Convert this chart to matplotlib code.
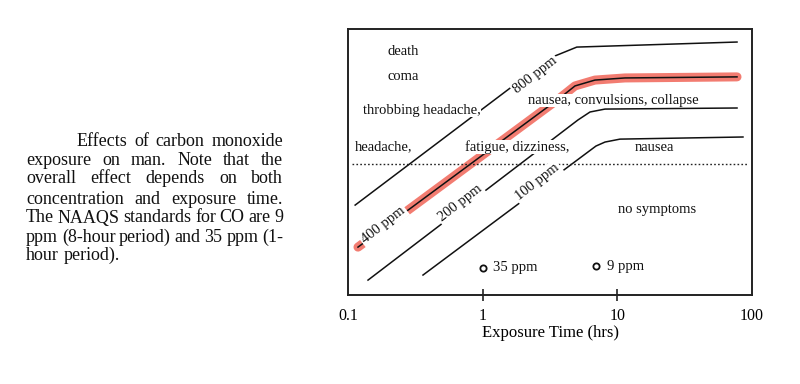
import matplotlib
matplotlib.use("Agg")
import matplotlib.pyplot as plt

SERIF = ["Liberation Serif", "DejaVu Serif"]
plt.rcParams["font.family"] = SERIF
plt.rcParams["text.color"] = "#111111"

# ---- data: exposure time (hrs) vs. relative effect level (arbitrary 0-100 scale)
t_800 = [0.113, 3.16, 5.0, 77.4]
y_800 = [33.8, 89.1, 93.2, 95.1]

t_400 = [0.1186, 3.75, 4.85, 6.82, 11.4, 77.4]
y_400 = [18.0, 74.1, 78.6, 80.8, 81.6, 82.0]

t_200 = [0.1408, 5.10, 6.27, 8.10, 77.4]
y_200 = [5.6, 65.8, 68.8, 69.9, 70.3]

t_100 = [0.3605, 6.94, 8.10, 10.46, 85.7]
y_100 = [7.5, 56.0, 57.5, 58.6, 59.4]

symptom_threshold = 49.2          # dotted line level
std_times = [1.0, 7.0]            # NAAQS standards (hrs)
std_levels = [10.2, 10.9]
std_labels = ["35 ppm", "9 ppm"]

tick_vals = [0.1, 1, 10, 100]
tick_labels = ["0.1", "1", "10", "100"]

curve_labels = ["800 ppm", "400 ppm", "200 ppm", "100 ppm"]

paragraph = [
    "Effects of carbon monoxide",
    "exposure on man.  Note that the",
    "overall effect depends on both",
    "concentration and exposure time.",
    "The NAAQS standards for CO are 9",
    "ppm (8-hour period) and 35 ppm (1-",
    "hour period).",
]

# ---- figure
fig = plt.figure(figsize=(8, 3.84), dpi=100)
W, H = 800, 384
ax = fig.add_axes([348 / W, 1 - 295 / H, 404 / W, 266 / H])
ax.set_xscale("log")
ax.set_xlim(0.1, 100)
ax.set_ylim(0, 100)
ax.set_yticks([])
ax.xaxis.set_minor_locator(matplotlib.ticker.NullLocator())
ax.set_xticks(tick_vals)
ax.set_xticklabels(tick_labels, fontsize=11.5)
ax.tick_params(axis="x", direction="inout", length=8, width=1.2, pad=5, color="#222222")
ticks = ax.xaxis.get_major_ticks()
for i in (0, len(ticks) - 1):
    ticks[i].tick1line.set_visible(False)
for s in ax.spines.values():
    s.set_linewidth(1.4)
    s.set_color("#222222")
ax.set_xlabel("Exposure Time (hrs)", fontsize=12, labelpad=1)

red = "#ee4a3a"
ax.plot(t_400, y_400, color=red, lw=6.5, alpha=0.72, solid_capstyle="round", zorder=1)

for t, y in [(t_800, y_800), (t_400, y_400), (t_200, y_200), (t_100, y_100)]:
    ax.plot(t, y, color="#111111", lw=1.1, zorder=2)

ax.axhline(symptom_threshold, xmin=0.01, xmax=0.99, color="#222222",
           lw=1.0, ls=(0, (1.2, 1.6)), zorder=2)

ax.plot(std_times, std_levels, "o", mfc="white", mec="#111111", ms=4.5, mew=1.3, zorder=3)
ax.text(std_times[0] * 1.19, std_levels[0], std_labels[0], fontsize=10.5, va="center", zorder=4)
ax.text(std_times[1] * 1.2, std_levels[1], std_labels[1], fontsize=10.5, va="center", zorder=4)

wb = dict(facecolor="white", edgecolor="none", boxstyle="square,pad=0.12")
wb_tight = dict(facecolor="white", edgecolor="none", boxstyle="square,pad=0.0")
label_pos = [(2.45, 82.7), (0.183, 26.3), (0.68, 34.6), (2.56, 42.5)]
for lab, (lx, ly) in zip(curve_labels, label_pos):
    ax.text(lx, ly, lab, fontsize=10.5, rotation=38, ha="center", va="center",
            rotation_mode="anchor", bbox=wb, zorder=4)

# (text, x, y, masks line behind it)
region_text = [
    ("death", 0.198, 91.7, False),
    ("coma", 0.198, 82.3, False),
    ("throbbing headache,", 0.129, 69.5, True),
    ("headache,", 0.113, 55.6, False),
    ("fatigue, dizziness,", 0.74, 55.6, True),
    ("nausea", 13.5, 55.6, False),
    ("nausea, convulsions, collapse", 2.17, 73.2, True),
    ("no symptoms", 10.1, 32.3, False),
]
for s, x, y, mask in region_text:
    ax.text(x, y, s, fontsize=10.5, va="center", ha="left",
            bbox=wb_tight if mask else None, zorder=4)

# ---- justified paragraph on the left
fig.canvas.draw()
r = fig.canvas.get_renderer()
ys = [141, 160, 179, 199, 218, 237, 255]
for i, (line, yc) in enumerate(zip(paragraph, ys)):
    x0 = 77 if i == 0 else 26
    x1 = 283
    words = line.split()
    ts = [fig.text(0, 1 - yc / H, w, fontsize=13, va="center", ha="left") for w in words]
    widths = [t.get_window_extent(r).width for t in ts]
    if i == len(paragraph) - 1:
        gap = 4.5
    else:
        gap = (x1 - x0 - sum(widths)) / (len(words) - 1)
    x = x0
    for t, w in zip(ts, widths):
        t.set_x(x / W)
        x += w + gap

fig.savefig("out.png", dpi=100, facecolor="white")
